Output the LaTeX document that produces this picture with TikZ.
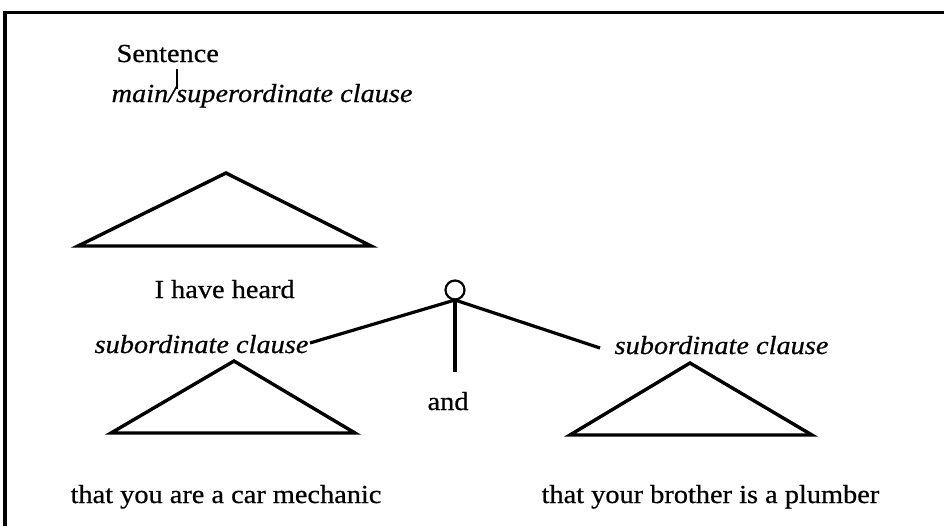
\documentclass[tikz,border=0pt]{standalone}
\usepackage{fontspec}
\setmainfont{Liberation Serif}[FakeStretch=1.09, FakeBold=0.6]
\begin{document}
\begin{tikzpicture}[x=0.5pt, y=-0.5pt, line width=1.6pt, line join=miter,
  lbl/.style={inner sep=0pt, anchor=base west, font=\fontsize{13}{15}\selectfont},
  ital/.style={lbl, font=\fontsize{13}{15}\selectfont\itshape},
  tri/.style={line width=1.7pt, line join=miter}]
\useasboundingbox (0,0) rectangle (944,526);

% frame (left and top edges)
\draw[line width=1.6pt] (5,526) -- (5,12.5) -- (944,12.5);

% top of the tree
\node[lbl]  (sent) at (115,62)  {Sentence};
\node[ital] (main) at (110,102) {main/superordinate clause};
\coordinate (tickA) at (177,69);
\coordinate (tickB) at (177,89);
\draw[line width=1.2pt] (tickA) -- (tickB);

% main clause triangle
\coordinate (m1) at (226,173);
\coordinate (m2) at (371,246);
\coordinate (m3) at (78,246);
\draw[tri] (m1) -- (m2) -- (m3) -- cycle;
\node[lbl] (heard) at (153,298) {I have heard};

% coordinating node
\node[draw, circle, line width=1.1pt, minimum size=9.5pt, inner sep=0pt] (conj) at (455,290) {};
\coordinate (jn) at (455,300);
\coordinate (lend) at (310,343);
\coordinate (rend) at (600,348);
\coordinate (mend) at (455,372);
\draw (jn) -- (lend);
\draw (jn) -- (rend);
\draw (jn) -- (mend);

\node[ital] (subL) at (93,353)  {subordinate clause};
\node[ital] (subR) at (613,354) {subordinate clause};
\node[lbl]  (andw) at (426,410) {and};

% subordinate clause triangles
\coordinate (l1) at (234,361);
\coordinate (l2) at (355,433);
\coordinate (l3) at (111,433);
\draw[tri] (l1) -- (l2) -- (l3) -- cycle;

\coordinate (r1) at (690,363);
\coordinate (r2) at (812,435);
\coordinate (r3) at (570,435);
\draw[tri] (r1) -- (r2) -- (r3) -- cycle;

\node[lbl] (mech)   at (69,503)  {that you are a car mechanic};
\node[lbl] (plumb)  at (540,503) {that your brother is a plumber};
\end{tikzpicture}
\end{document}
